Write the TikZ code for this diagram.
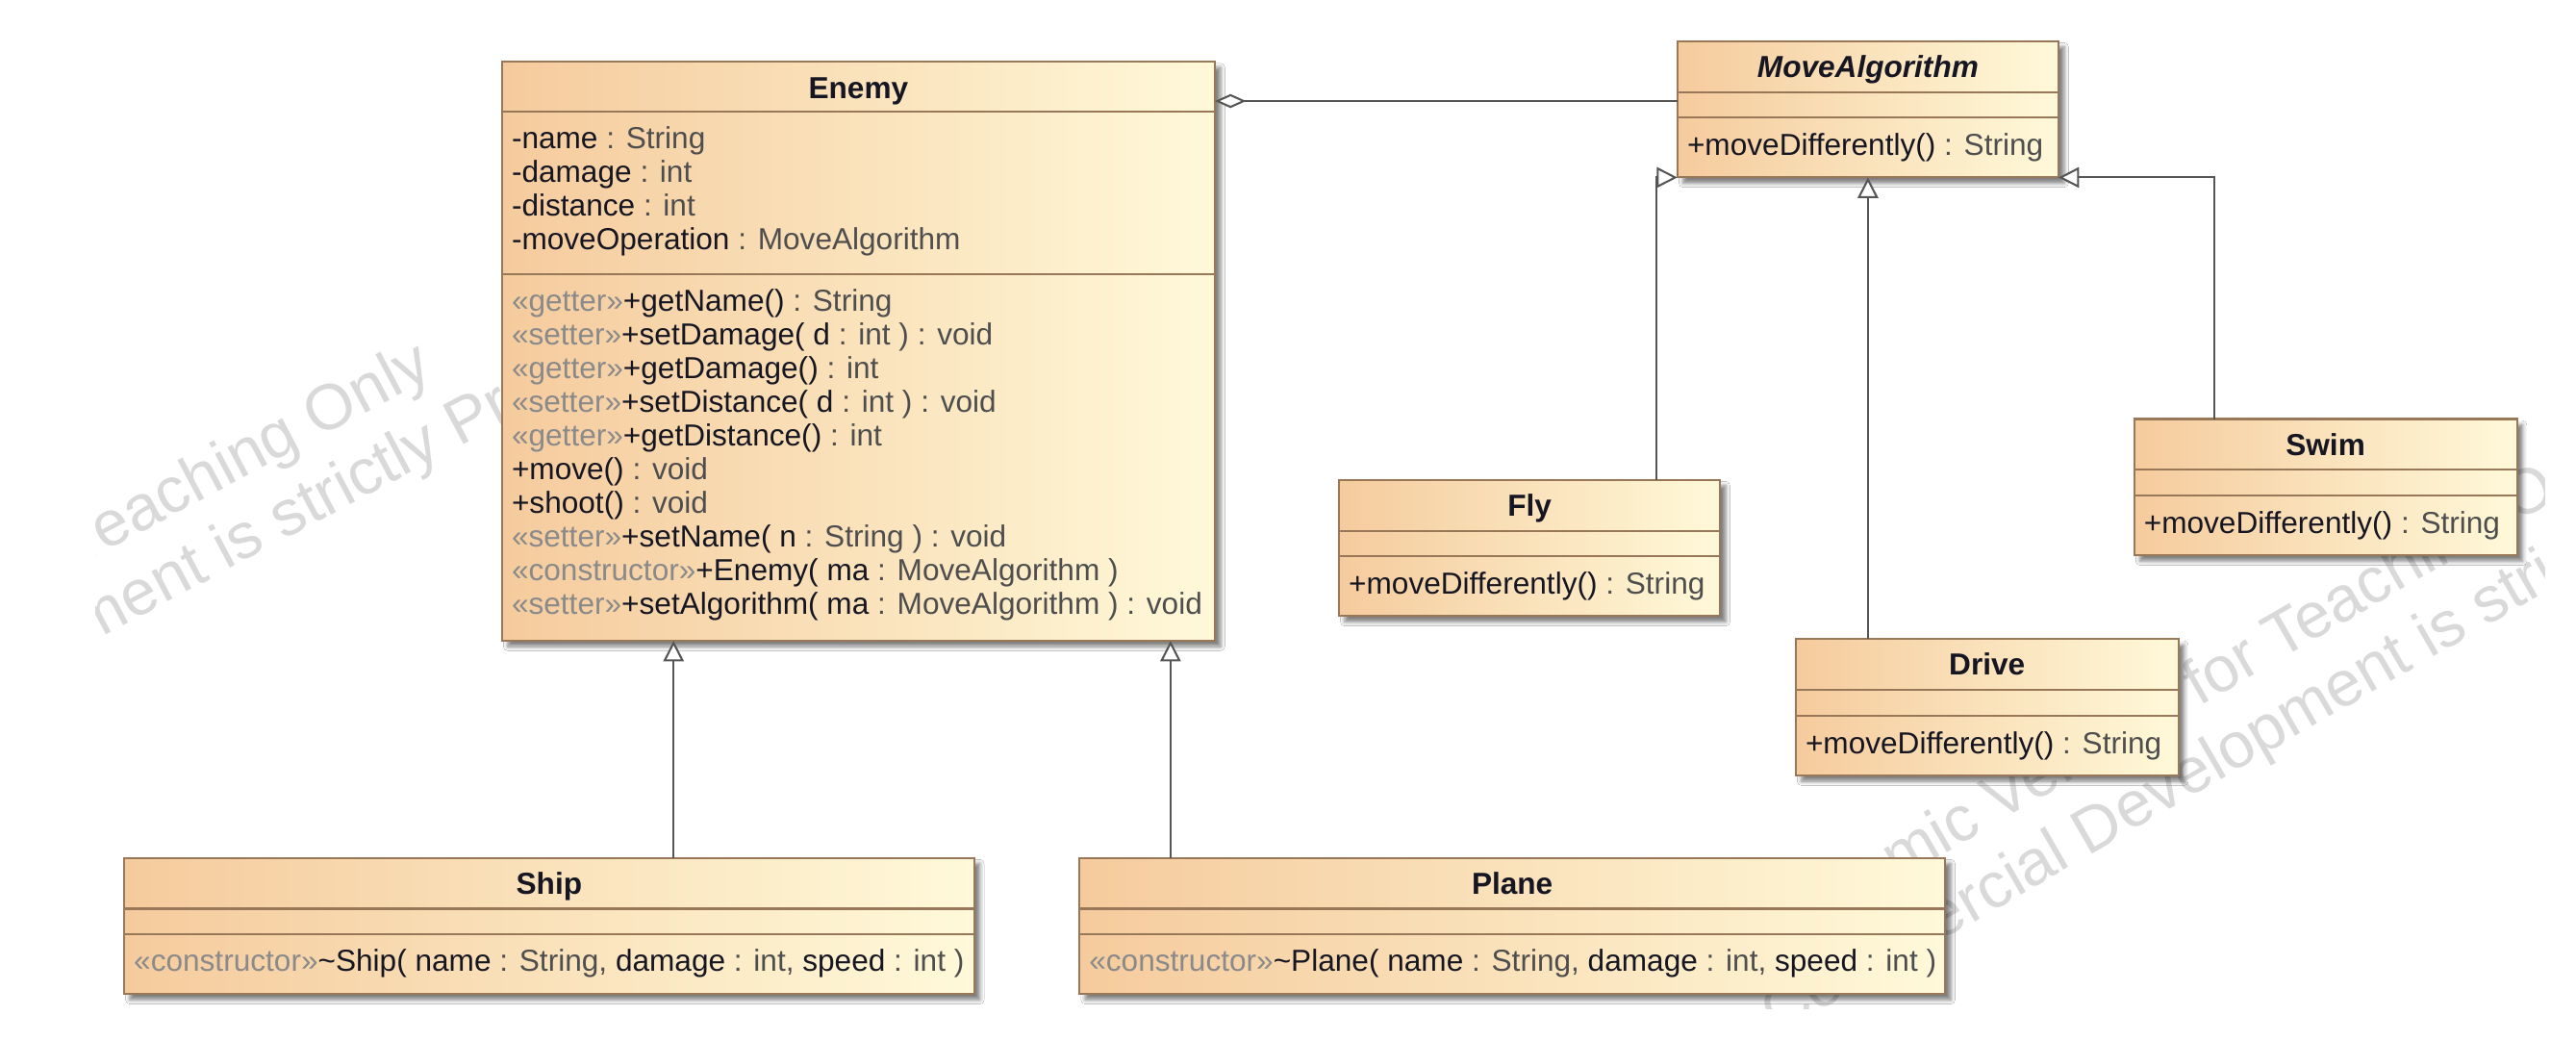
\documentclass[tikz,border=0pt]{standalone}
\usepackage{fontspec}
\setmainfont{Liberation Sans}
\usetikzlibrary{arrows.meta,shadows.blur}
\definecolor{boxL}{RGB}{245,203,157}
\definecolor{boxR}{RGB}{255,249,217}
\definecolor{boxline}{RGB}{152,120,88}
\definecolor{conn}{RGB}{85,85,85}
\definecolor{nm}{RGB}{22,22,34}
\definecolor{ty}{RGB}{78,78,78}
\definecolor{stc}{RGB}{138,138,138}
\definecolor{wmc}{RGB}{217,217,217}
\newcommand{\Ty}[1]{\textcolor{ty}{#1}}
\newcommand{\Stc}[1]{\textcolor{stc}{#1}}
\tikzset{
 classbox/.style={draw=boxline, line width=1.2pt, left color=boxL, right color=boxR,
   inner sep=0pt, outer sep=0pt, anchor=north west,
   blur shadow={shadow xshift=3.5pt, shadow yshift=-3.5pt, shadow blur radius=2.5pt, shadow opacity=50}},
 sepline/.style={draw=boxline, line width=1.2pt},
 txt/.style={anchor=base west, inner sep=0pt, outer sep=0pt, font=\fontsize{18.5}{20.5}\selectfont, text=nm},
 ttl/.style={anchor=base, inner sep=0pt, outer sep=0pt, font=\fontsize{18.5}{20.5}\selectfont\bfseries, text=nm},
 gen/.style={draw=conn, line width=1.2pt, -{Triangle[open, length=12.5pt, width=12.5pt, fill=white]}},
 agg/.style={draw=conn, line width=1.2pt, {Diamond[open, length=19pt, width=8.5pt, fill=white]}-},
 wm/.style={anchor=base west, inner sep=0pt, outer sep=0pt, font=\fontsize{39}{45}\selectfont, text=wmc},
}
\begin{document}
\begin{tikzpicture}[x=1pt,y=-1pt]
\useasboundingbox[fill=white] (0,0) rectangle (1568,633.5);

% watermark
\begin{scope}
\clip (58,8) rectangle (1549,614);
\node[wm, rotate=28] (wm1) at (-288.6,523.1) {Academic Version for Teaching Only};
\node[wm, rotate=28] (wm2) at (-267.5,562.8) {Commercial Development is strictly Prohibited};
\node[wm, rotate=30] (wm3) at (1059,591.5) {Academic Version for Teaching Only};
\node[wm, rotate=30] (wm4) at (1081.5,630.5) {Commercial Development is strictly Prohibited};
\end{scope}

% Enemy
\node[classbox, minimum width=434pt, minimum height=352.5pt] (enemy) at (305.5,37.5) {};
\draw[sepline] ([yshift=-30.5pt]enemy.north west) -- ([yshift=-30.5pt]enemy.north east);
\draw[sepline] ([yshift=-129.5pt]enemy.north west) -- ([yshift=-129.5pt]enemy.north east);
\node[ttl] (enemy-t) at ([yshift=-22.5pt]enemy.north) {Enemy};
\node[txt] (enemy-a1) at ([xshift=6pt,yshift=-53pt]enemy.north west) {-name \Ty{: String}};
\node[txt] (enemy-a2) at ([xshift=6pt,yshift=-73.5pt]enemy.north west) {-damage \Ty{: int}};
\node[txt] (enemy-a3) at ([xshift=6pt,yshift=-94pt]enemy.north west) {-distance \Ty{: int}};
\node[txt] (enemy-a4) at ([xshift=6pt,yshift=-114.5pt]enemy.north west) {-moveOperation \Ty{: MoveAlgorithm}};
\node[txt] (enemy-o1) at ([xshift=6pt,yshift=-152pt]enemy.north west) {\Stc{«getter»}+getName() \Ty{: String}};
\node[txt] (enemy-o2) at ([xshift=6pt,yshift=-172.5pt]enemy.north west) {\Stc{«setter»}+setDamage( d \Ty{: int ) : void}};
\node[txt] (enemy-o3) at ([xshift=6pt,yshift=-193pt]enemy.north west) {\Stc{«getter»}+getDamage() \Ty{: int}};
\node[txt] (enemy-o4) at ([xshift=6pt,yshift=-213.5pt]enemy.north west) {\Stc{«setter»}+setDistance( d \Ty{: int ) : void}};
\node[txt] (enemy-o5) at ([xshift=6pt,yshift=-234pt]enemy.north west) {\Stc{«getter»}+getDistance() \Ty{: int}};
\node[txt] (enemy-o6) at ([xshift=6pt,yshift=-254.5pt]enemy.north west) {+move() \Ty{: void}};
\node[txt] (enemy-o7) at ([xshift=6pt,yshift=-275pt]enemy.north west) {+shoot() \Ty{: void}};
\node[txt] (enemy-o8) at ([xshift=6pt,yshift=-295.5pt]enemy.north west) {\Stc{«setter»}+setName( n \Ty{: String ) : void}};
\node[txt] (enemy-o9) at ([xshift=6pt,yshift=-316pt]enemy.north west) {\Stc{«constructor»}+Enemy( ma \Ty{: MoveAlgorithm )}};
\node[txt] (enemy-o10) at ([xshift=6pt,yshift=-336.5pt]enemy.north west) {\Stc{«setter»}+setAlgorithm( ma \Ty{: MoveAlgorithm ) : void}};

% MoveAlgorithm
\node[classbox, minimum width=232pt, minimum height=83pt] (ma) at (1021,25) {};
\draw[sepline] ([yshift=-31pt]ma.north west) -- ([yshift=-31pt]ma.north east);
\draw[sepline] ([yshift=-46.5pt]ma.north west) -- ([yshift=-46.5pt]ma.north east);
\node[ttl, font=\fontsize{18.5}{20.5}\selectfont\bfseries\itshape] (ma-t) at ([yshift=-22pt]ma.north) {MoveAlgorithm};
\node[txt] (ma-m) at ([xshift=6pt,yshift=-69.5pt]ma.north west) {+moveDifferently() \Ty{: String}};

% Fly
\node[classbox, minimum width=232pt, minimum height=83pt] (fly) at (815,292) {};
\draw[sepline] ([yshift=-31pt]fly.north west) -- ([yshift=-31pt]fly.north east);
\draw[sepline] ([yshift=-46.5pt]fly.north west) -- ([yshift=-46.5pt]fly.north east);
\node[ttl] (fly-t) at ([yshift=-22pt]fly.north) {Fly};
\node[txt] (fly-m) at ([xshift=6pt,yshift=-69.5pt]fly.north west) {+moveDifferently() \Ty{: String}};

% Drive
\node[classbox, minimum width=233pt, minimum height=83pt] (drive) at (1093,389) {};
\draw[sepline] ([yshift=-31pt]drive.north west) -- ([yshift=-31pt]drive.north east);
\draw[sepline] ([yshift=-46.5pt]drive.north west) -- ([yshift=-46.5pt]drive.north east);
\node[ttl] (drive-t) at ([yshift=-22pt]drive.north) {Drive};
\node[txt] (drive-m) at ([xshift=6pt,yshift=-69.5pt]drive.north west) {+moveDifferently() \Ty{: String}};

% Swim
\node[classbox, minimum width=233pt, minimum height=83pt] (swim) at (1299,255) {};
\draw[sepline] ([yshift=-31pt]swim.north west) -- ([yshift=-31pt]swim.north east);
\draw[sepline] ([yshift=-46.5pt]swim.north west) -- ([yshift=-46.5pt]swim.north east);
\node[ttl] (swim-t) at ([yshift=-22pt]swim.north) {Swim};
\node[txt] (swim-m) at ([xshift=6pt,yshift=-69.5pt]swim.north west) {+moveDifferently() \Ty{: String}};

% Ship
\node[classbox, minimum width=517.5pt, minimum height=83pt] (ship) at (75.5,522) {};
\draw[sepline] ([yshift=-31pt]ship.north west) -- ([yshift=-31pt]ship.north east);
\draw[sepline] ([yshift=-46.5pt]ship.north west) -- ([yshift=-46.5pt]ship.north east);
\node[ttl] (ship-t) at ([yshift=-22pt]ship.north) {Ship};
\node[txt] (ship-m) at ([xshift=6pt,yshift=-69pt]ship.north west) {\Stc{«constructor»}\textasciitilde Ship( name \Ty{: String,} damage \Ty{: int,} speed \Ty{: int )}};

% Plane
\node[classbox, minimum width=527pt, minimum height=83pt] (plane) at (657,522) {};
\draw[sepline] ([yshift=-31pt]plane.north west) -- ([yshift=-31pt]plane.north east);
\draw[sepline] ([yshift=-46.5pt]plane.north west) -- ([yshift=-46.5pt]plane.north east);
\node[ttl] (plane-t) at ([yshift=-22pt]plane.north) {Plane};
\node[txt] (plane-m) at ([xshift=6pt,yshift=-69pt]plane.north west) {\Stc{«constructor»}\textasciitilde Plane( name \Ty{: String,} damage \Ty{: int,} speed \Ty{: int )}};

% connectors
\coordinate (shipx) at (410,0);
\coordinate (planex) at (712.5,0);
\coordinate (flyx) at (1008.5,0);
\coordinate (swimx) at (1348,0);
\draw[agg] ([yshift=-24pt]enemy.north east) -- ([yshift=-24pt]enemy.north east -| ma.west);
\draw[gen] (ship.north -| shipx) -- (enemy.south -| shipx);
\draw[gen] (plane.north -| planex) -- (enemy.south -| planex);
\draw[gen] (fly.north -| flyx) |- (ma.south west);
\draw[gen] (drive.north -| ma.south) -- (ma.south);
\draw[gen] (swim.north -| swimx) |- (ma.south east);
\end{tikzpicture}
\end{document}
